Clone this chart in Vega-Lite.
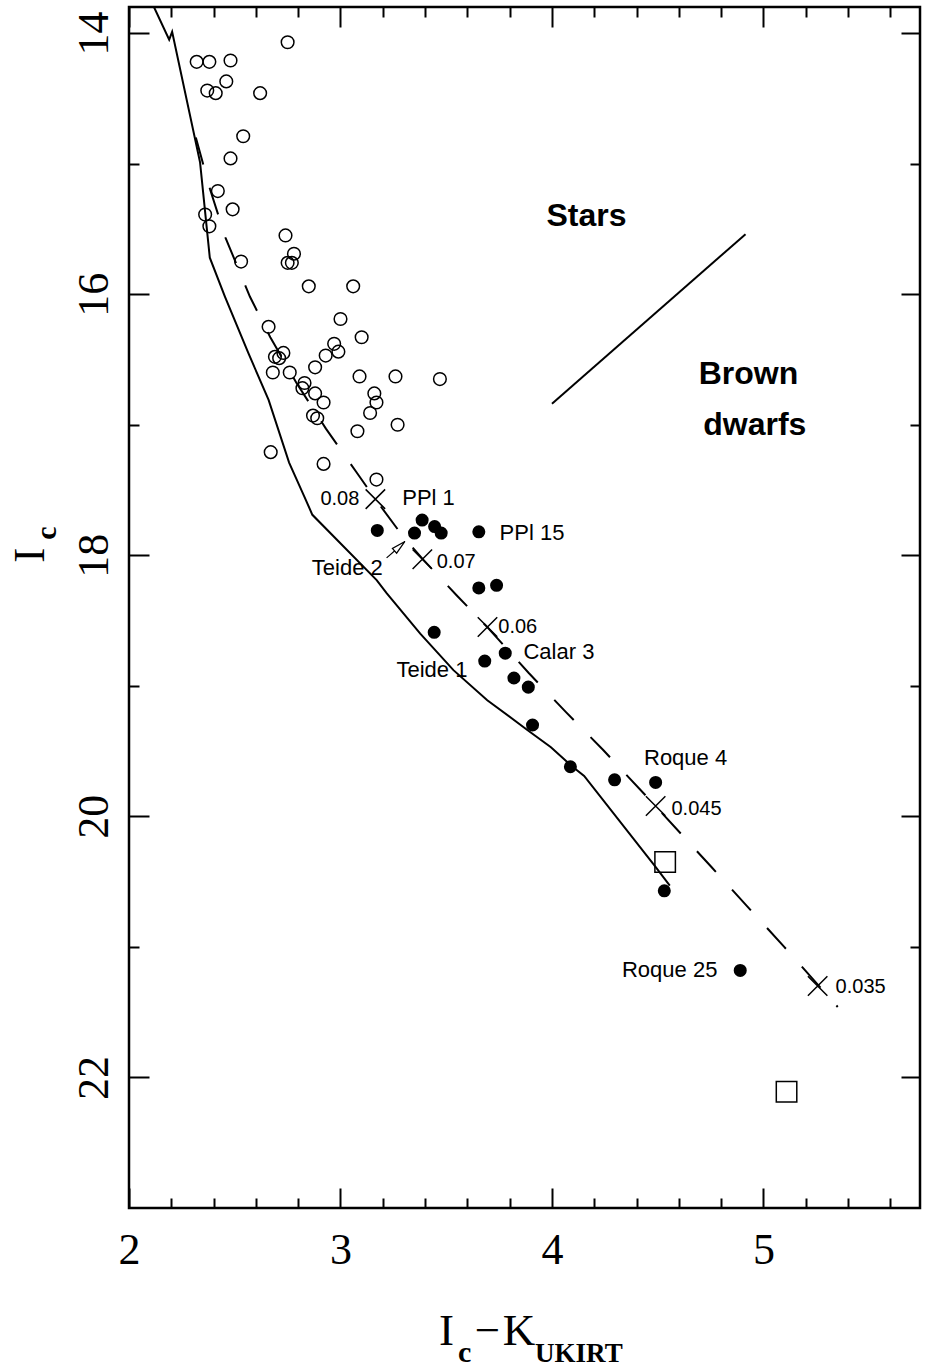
{
 "$schema": "https://vega.github.io/schema/vega-lite/v6.json",
 "width": 791,
 "height": 1201,
 "autosize": {"type": "none"},
 "padding": {"left": 129, "top": 7, "right": 8, "bottom": 160},
 "background": "white",
 "config": {
  "view": {"stroke": "black", "strokeWidth": 2.5},
  "axis": {"domain": false, "grid": false, "tickColor": "black", "tickWidth": 2, "labelColor": "black", "labelFont": "Liberation Serif", "labelFontSize": 44, "labelFlush": false, "labelOverlap": false, "labelBound": false}
 },
 "resolve": {"axis": {"x": "independent", "y": "independent"}},
 "datasets": {
  "stars": [
   {"x":2.75,"y":14.07},{"x":2.32,"y":14.22},{"x":2.38,"y":14.22},{"x":2.48,"y":14.21},{"x":2.46,"y":14.37},
   {"x":2.37,"y":14.44},{"x":2.41,"y":14.46},{"x":2.62,"y":14.46},{"x":2.54,"y":14.79},{"x":2.48,"y":14.96},
   {"x":2.42,"y":15.21},{"x":2.49,"y":15.35},{"x":2.36,"y":15.39},{"x":2.38,"y":15.48},{"x":2.74,"y":15.55},
   {"x":2.78,"y":15.69},{"x":2.75,"y":15.76},{"x":2.77,"y":15.76},{"x":2.53,"y":15.75},{"x":2.85,"y":15.94},
   {"x":3.06,"y":15.94},{"x":3.00,"y":16.19},{"x":2.66,"y":16.25},{"x":3.10,"y":16.33},{"x":2.97,"y":16.38},
   {"x":2.99,"y":16.44},{"x":2.93,"y":16.47},{"x":2.73,"y":16.45},{"x":2.69,"y":16.48},{"x":2.71,"y":16.49},
   {"x":2.88,"y":16.56},{"x":2.68,"y":16.60},{"x":2.76,"y":16.60},{"x":3.09,"y":16.63},{"x":3.26,"y":16.63},
   {"x":3.47,"y":16.65},{"x":2.83,"y":16.68},{"x":2.82,"y":16.72},{"x":2.88,"y":16.76},{"x":3.16,"y":16.76},
   {"x":3.17,"y":16.83},{"x":2.92,"y":16.83},{"x":3.14,"y":16.91},{"x":2.87,"y":16.93},{"x":2.89,"y":16.95},
   {"x":3.27,"y":17.00},{"x":3.08,"y":17.05},{"x":2.67,"y":17.21},{"x":2.92,"y":17.30},{"x":3.17,"y":17.42}
  ],
  "bds": [
   {"x":3.174,"y":17.81},{"x":3.386,"y":17.73},{"x":3.350,"y":17.83},{"x":3.445,"y":17.78},{"x":3.476,"y":17.83},
   {"x":3.654,"y":17.82},{"x":3.654,"y":18.25},{"x":3.738,"y":18.23},{"x":3.443,"y":18.59},{"x":3.779,"y":18.75},
   {"x":3.682,"y":18.81},{"x":3.820,"y":18.94},{"x":3.888,"y":19.01},{"x":3.908,"y":19.30},{"x":4.087,"y":19.62},
   {"x":4.296,"y":19.72},{"x":4.490,"y":19.74},{"x":4.531,"y":20.57},{"x":4.890,"y":21.18}
  ],
  "squares": [{"x":4.535,"y":20.35},{"x":5.109,"y":22.11}],
  "crosses": [{"x":3.165,"y":17.57},{"x":3.387,"y":18.03},{"x":3.695,"y":18.55},{"x":4.490,"y":19.92},{"x":5.256,"y":21.30}],
  "solid": [
   {"i":0,"x":2.118,"y":13.80},{"i":1,"x":2.190,"y":14.05},{"i":2,"x":2.204,"y":13.99},{"i":3,"x":2.336,"y":14.99},
   {"i":4,"x":2.382,"y":15.72},{"i":5,"x":2.454,"y":16.02},{"i":6,"x":2.564,"y":16.45},{"i":7,"x":2.660,"y":16.81},
   {"i":8,"x":2.757,"y":17.29},{"i":9,"x":2.829,"y":17.55},{"i":10,"x":2.867,"y":17.69},{"i":11,"x":3.171,"y":18.19},
   {"i":12,"x":3.218,"y":18.29},{"i":13,"x":3.377,"y":18.60},{"i":14,"x":3.534,"y":18.88},{"i":15,"x":3.694,"y":19.11},
   {"i":16,"x":3.885,"y":19.34},{"i":17,"x":3.995,"y":19.47},{"i":18,"x":4.090,"y":19.61},{"i":19,"x":4.152,"y":19.69},
   {"i":20,"x":4.486,"y":20.38},{"i":21,"x":4.557,"y":20.53}
  ],
  "dashed": [
   {"i":0,"x":2.316,"y":14.80},{"i":1,"x":2.384,"y":15.20},{"i":2,"x":2.457,"y":15.57},{"i":3,"x":2.572,"y":16.02},
   {"i":4,"x":2.668,"y":16.33},{"i":5,"x":2.792,"y":16.68},{"i":6,"x":2.931,"y":17.03},{"i":7,"x":3.074,"y":17.36},
   {"i":8,"x":3.165,"y":17.57},{"i":9,"x":3.293,"y":17.85},{"i":10,"x":3.389,"y":18.03},{"i":11,"x":3.551,"y":18.31},
   {"i":12,"x":3.694,"y":18.55},{"i":13,"x":3.889,"y":18.90},{"i":14,"x":4.065,"y":19.20},{"i":15,"x":4.241,"y":19.49},
   {"i":16,"x":4.489,"y":19.92},{"i":17,"x":4.755,"y":20.39},{"i":18,"x":5.098,"y":21.00},{"i":19,"x":5.351,"y":21.46}
  ],
  "divider": [{"i":0,"x":4.00,"y":16.84},{"i":1,"x":4.915,"y":15.54}],
  "arrow": [{"i":0,"x":3.218,"y":18.02},{"i":1,"x":3.285,"y":17.925}],
  "arrowhead": [{"x":3.280,"y":17.93}],
  "namesLeft": [
   {"t":"PPl 1","x":3.292,"y":17.56},{"t":"PPl 15","x":3.752,"y":17.83},
   {"t":"Calar 3","x":3.865,"y":18.74},{"t":"Roque 4","x":4.435,"y":19.55}
  ],
  "namesRight": [
   {"t":"Teide 2","x":3.200,"y":18.10},{"t":"Teide 1","x":3.600,"y":18.88},{"t":"Roque 25","x":4.782,"y":21.18}
  ],
  "massLeft": [
   {"t":"0.07","x":3.455,"y":18.05},{"t":"0.06","x":3.746,"y":18.55},
   {"t":"0.045","x":4.565,"y":19.94},{"t":"0.035","x":5.341,"y":21.31}
  ],
  "massRight": [{"t":"0.08","x":3.089,"y":17.57}],
  "regions": [
   {"t":"Stars","x":4.163,"y":15.40},{"t":"Brown","x":4.929,"y":16.61},{"t":"dwarfs","x":4.959,"y":17.00}
  ],
  "titleBig": [
   {"t":"I","x":3.501,"y":24.053},{"t":"−","x":3.695,"y":24.053},{"t":"K","x":3.844,"y":24.053}
  ],
  "titleSubC": [{"t":"c","x":3.587,"y":24.183}],
  "titleSubU": [{"t":"UKIRT","x":3.920,"y":24.183}],
  "ytitleBig": [{"t":"I","x":1.5305,"y":18.0}],
  "ytitleSub": [{"t":"c","x":1.610,"y":17.83}]
 },
 "layer": [
  {
   "data": {"name": "stars"},
   "mark": {"type": "point", "shape": "circle", "filled": false, "stroke": "black", "strokeWidth": 1.5, "size": 160, "opacity": 1},
   "encoding": {
    "x": {"field": "x", "type": "quantitative", "scale": {"domain": [2, 5.74], "nice": false, "zero": false},
          "axis": {"orient": "bottom", "values": [2, 3, 4, 5], "tickSize": -20, "labelPadding": 40, "labelBaseline": "top", "title": null, "format": "d"}},
    "y": {"field": "y", "type": "quantitative", "scale": {"domain": [13.8, 23], "reverse": true, "nice": false, "zero": false},
          "axis": {"orient": "left", "values": [14, 16, 18, 20, 22], "tickSize": -20, "labelAngle": 270, "labelAlign": "center", "labelBaseline": "alphabetic", "labelPadding": 42, "title": null, "format": "d"}}
   }
  },
  {
   "data": {"name": "bds"},
   "mark": {"type": "point", "shape": "circle", "filled": true, "color": "black", "size": 170, "opacity": 1},
   "encoding": {
    "x": {"field": "x", "type": "quantitative", "scale": {"domain": [2, 5.74], "nice": false, "zero": false},
          "axis": {"orient": "bottom", "values": [2.2, 2.4, 2.6, 2.8, 3.2, 3.4, 3.6, 3.8, 4.2, 4.4, 4.6, 4.8, 5.2, 5.4, 5.6], "tickSize": -10, "labels": false, "title": null}},
    "y": {"field": "y", "type": "quantitative", "scale": {"domain": [13.8, 23], "reverse": true, "nice": false, "zero": false},
          "axis": {"orient": "left", "values": [15, 17, 19, 21], "tickSize": -10, "labels": false, "title": null}}
   }
  },
  {
   "data": {"name": "squares"},
   "mark": {"type": "point", "shape": "square", "filled": false, "stroke": "black", "strokeWidth": 1.5, "size": 420, "opacity": 1},
   "encoding": {
    "x": {"field": "x", "type": "quantitative", "scale": {"domain": [2, 5.74], "nice": false, "zero": false},
          "axis": {"orient": "top", "values": [2, 3, 4, 5], "tickSize": -20, "labels": false, "title": null}},
    "y": {"field": "y", "type": "quantitative", "scale": {"domain": [13.8, 23], "reverse": true, "nice": false, "zero": false},
          "axis": {"orient": "right", "values": [14, 16, 18, 20, 22], "tickSize": -19, "labels": false, "title": null}}
   }
  },
  {
   "data": {"name": "crosses"},
   "mark": {"type": "point", "shape": "M-1,-1L1,1M-1,1L1,-1", "filled": false, "stroke": "black", "strokeWidth": 1.5, "size": 380, "opacity": 1},
   "encoding": {
    "x": {"field": "x", "type": "quantitative", "scale": {"domain": [2, 5.74], "nice": false, "zero": false},
          "axis": {"orient": "top", "values": [2.2, 2.4, 2.6, 2.8, 3.2, 3.4, 3.6, 3.8, 4.2, 4.4, 4.6, 4.8, 5.2, 5.4, 5.6], "tickSize": -10, "labels": false, "title": null}},
    "y": {"field": "y", "type": "quantitative", "scale": {"domain": [13.8, 23], "reverse": true, "nice": false, "zero": false},
          "axis": {"orient": "right", "values": [15, 17, 19, 21], "tickSize": -10, "labels": false, "title": null}}
   }
  },
  {
   "data": {"name": "solid"},
   "mark": {"type": "line", "color": "black", "strokeWidth": 2, "clip": true},
   "encoding": {
    "x": {"field": "x", "type": "quantitative", "scale": {"domain": [2, 5.74], "nice": false, "zero": false}, "axis": null},
    "y": {"field": "y", "type": "quantitative", "scale": {"domain": [13.8, 23], "reverse": true, "nice": false, "zero": false}, "axis": null},
    "order": {"field": "i", "type": "quantitative"}
   }
  },
  {
   "data": {"name": "dashed"},
   "mark": {"type": "line", "color": "black", "strokeWidth": 2, "strokeDash": [28, 24], "clip": true},
   "encoding": {
    "x": {"field": "x", "type": "quantitative", "scale": {"domain": [2, 5.74], "nice": false, "zero": false}, "axis": null},
    "y": {"field": "y", "type": "quantitative", "scale": {"domain": [13.8, 23], "reverse": true, "nice": false, "zero": false}, "axis": null},
    "order": {"field": "i", "type": "quantitative"}
   }
  },
  {
   "data": {"name": "divider"},
   "mark": {"type": "line", "color": "black", "strokeWidth": 2},
   "encoding": {
    "x": {"field": "x", "type": "quantitative", "scale": {"domain": [2, 5.74], "nice": false, "zero": false}, "axis": null},
    "y": {"field": "y", "type": "quantitative", "scale": {"domain": [13.8, 23], "reverse": true, "nice": false, "zero": false}, "axis": null},
    "order": {"field": "i", "type": "quantitative"}
   }
  },
  {
   "data": {"name": "arrow"},
   "mark": {"type": "line", "color": "black", "strokeWidth": 1.2},
   "encoding": {
    "x": {"field": "x", "type": "quantitative", "scale": {"domain": [2, 5.74], "nice": false, "zero": false}, "axis": null},
    "y": {"field": "y", "type": "quantitative", "scale": {"domain": [13.8, 23], "reverse": true, "nice": false, "zero": false}, "axis": null},
    "order": {"field": "i", "type": "quantitative"}
   }
  },
  {
   "data": {"name": "arrowhead"},
   "mark": {"type": "point", "shape": "M0,-1L0.45,1L-0.45,1Z", "filled": true, "fill": "white", "stroke": "black", "strokeWidth": 1.2, "size": 196, "angle": 48, "opacity": 1},
   "encoding": {
    "x": {"field": "x", "type": "quantitative", "scale": {"domain": [2, 5.74], "nice": false, "zero": false}, "axis": null},
    "y": {"field": "y", "type": "quantitative", "scale": {"domain": [13.8, 23], "reverse": true, "nice": false, "zero": false}, "axis": null}
   }
  },
  {
   "data": {"name": "namesLeft"},
   "mark": {"type": "text", "align": "left", "baseline": "middle", "font": "Liberation Sans", "fontSize": 22, "color": "black"},
   "encoding": {
    "x": {"field": "x", "type": "quantitative", "scale": {"domain": [2, 5.74], "nice": false, "zero": false}, "axis": null},
    "y": {"field": "y", "type": "quantitative", "scale": {"domain": [13.8, 23], "reverse": true, "nice": false, "zero": false}, "axis": null},
    "text": {"field": "t"}
   }
  },
  {
   "data": {"name": "namesRight"},
   "mark": {"type": "text", "align": "right", "baseline": "middle", "font": "Liberation Sans", "fontSize": 22, "color": "black"},
   "encoding": {
    "x": {"field": "x", "type": "quantitative", "scale": {"domain": [2, 5.74], "nice": false, "zero": false}, "axis": null},
    "y": {"field": "y", "type": "quantitative", "scale": {"domain": [13.8, 23], "reverse": true, "nice": false, "zero": false}, "axis": null},
    "text": {"field": "t"}
   }
  },
  {
   "data": {"name": "massLeft"},
   "mark": {"type": "text", "align": "left", "baseline": "middle", "font": "Liberation Sans", "fontSize": 20, "color": "black"},
   "encoding": {
    "x": {"field": "x", "type": "quantitative", "scale": {"domain": [2, 5.74], "nice": false, "zero": false}, "axis": null},
    "y": {"field": "y", "type": "quantitative", "scale": {"domain": [13.8, 23], "reverse": true, "nice": false, "zero": false}, "axis": null},
    "text": {"field": "t"}
   }
  },
  {
   "data": {"name": "massRight"},
   "mark": {"type": "text", "align": "right", "baseline": "middle", "font": "Liberation Sans", "fontSize": 20, "color": "black"},
   "encoding": {
    "x": {"field": "x", "type": "quantitative", "scale": {"domain": [2, 5.74], "nice": false, "zero": false}, "axis": null},
    "y": {"field": "y", "type": "quantitative", "scale": {"domain": [13.8, 23], "reverse": true, "nice": false, "zero": false}, "axis": null},
    "text": {"field": "t"}
   }
  },
  {
   "data": {"name": "regions"},
   "mark": {"type": "text", "align": "center", "baseline": "middle", "font": "Liberation Sans", "fontSize": 32, "fontWeight": "bold", "color": "black"},
   "encoding": {
    "x": {"field": "x", "type": "quantitative", "scale": {"domain": [2, 5.74], "nice": false, "zero": false}, "axis": null},
    "y": {"field": "y", "type": "quantitative", "scale": {"domain": [13.8, 23], "reverse": true, "nice": false, "zero": false}, "axis": null},
    "text": {"field": "t"}
   }
  },
  {
   "data": {"name": "titleBig"},
   "mark": {"type": "text", "align": "center", "baseline": "alphabetic", "font": "Liberation Serif", "fontSize": 45, "color": "black"},
   "encoding": {
    "x": {"field": "x", "type": "quantitative", "scale": {"domain": [2, 5.74], "nice": false, "zero": false}, "axis": null},
    "y": {"field": "y", "type": "quantitative", "scale": {"domain": [13.8, 23], "reverse": true, "nice": false, "zero": false}, "axis": null},
    "text": {"field": "t"}
   }
  },
  {
   "data": {"name": "titleSubC"},
   "mark": {"type": "text", "align": "center", "baseline": "alphabetic", "font": "Liberation Serif", "fontSize": 30, "fontWeight": "bold", "color": "black"},
   "encoding": {
    "x": {"field": "x", "type": "quantitative", "scale": {"domain": [2, 5.74], "nice": false, "zero": false}, "axis": null},
    "y": {"field": "y", "type": "quantitative", "scale": {"domain": [13.8, 23], "reverse": true, "nice": false, "zero": false}, "axis": null},
    "text": {"field": "t"}
   }
  },
  {
   "data": {"name": "titleSubU"},
   "mark": {"type": "text", "align": "left", "baseline": "alphabetic", "font": "Liberation Serif", "fontSize": 27, "fontWeight": "bold", "color": "black"},
   "encoding": {
    "x": {"field": "x", "type": "quantitative", "scale": {"domain": [2, 5.74], "nice": false, "zero": false}, "axis": null},
    "y": {"field": "y", "type": "quantitative", "scale": {"domain": [13.8, 23], "reverse": true, "nice": false, "zero": false}, "axis": null},
    "text": {"field": "t"}
   }
  },
  {
   "data": {"name": "ytitleBig"},
   "mark": {"type": "text", "align": "center", "baseline": "middle", "angle": 270, "font": "Liberation Serif", "fontSize": 45, "color": "black"},
   "encoding": {
    "x": {"field": "x", "type": "quantitative", "scale": {"domain": [2, 5.74], "nice": false, "zero": false}, "axis": null},
    "y": {"field": "y", "type": "quantitative", "scale": {"domain": [13.8, 23], "reverse": true, "nice": false, "zero": false}, "axis": null},
    "text": {"field": "t"}
   }
  },
  {
   "data": {"name": "ytitleSub"},
   "mark": {"type": "text", "align": "center", "baseline": "middle", "angle": 270, "font": "Liberation Serif", "fontSize": 30, "fontWeight": "bold", "color": "black"},
   "encoding": {
    "x": {"field": "x", "type": "quantitative", "scale": {"domain": [2, 5.74], "nice": false, "zero": false}, "axis": null},
    "y": {"field": "y", "type": "quantitative", "scale": {"domain": [13.8, 23], "reverse": true, "nice": false, "zero": false}, "axis": null},
    "text": {"field": "t"}
   }
  }
 ]
}
